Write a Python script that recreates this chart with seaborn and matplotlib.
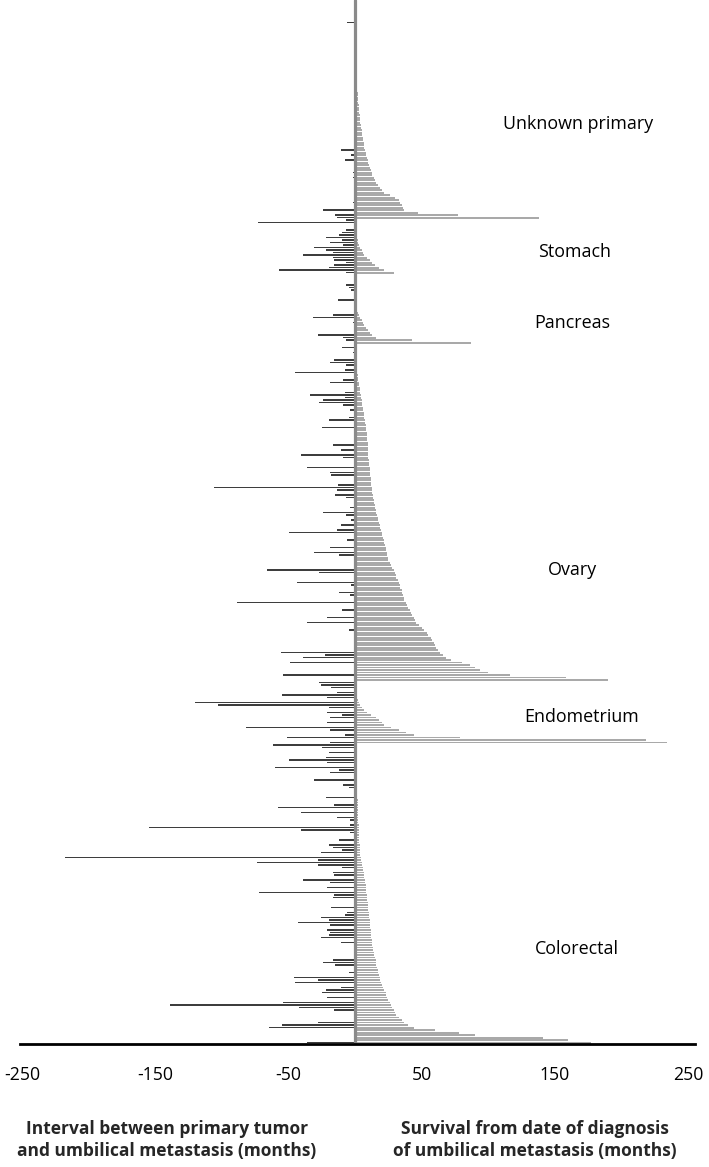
import numpy as np
import pandas as pd
import matplotlib
matplotlib.use("Agg")
import matplotlib.pyplot as plt
import seaborn as sns

# ---------------- data (months), rows top -> bottom ----------------
groups = ["Unknown primary", "Stomach", "Pancreas", "Ovary", "Endometrium", "Colorectal"]

surv_unknown = [0, 0, 0, 0, 0, 0, 0, 0, 0, 0, 0, 0, 0, 0,
                0.3, 0.4, 0.5, 0.6, 0.7, 0.8, 0.9, 1.0, 1.1, 1.2,
                1.3, 1.4, 1.5, 1.6, 1.7, 1.8, 1.9, 2.0, 2.2, 2.4,
                2.6, 2.8, 3.0, 3.2, 3.4, 3.6, 3.8, 4.0, 4.2, 4.5,
                5, 5, 5.5, 6, 6, 6.5, 7, 7, 7.5,
                8, 8.5, 9, 9.5, 10, 10.5, 11, 12, 12.5, 13, 14, 15,
                16, 17, 19, 20, 22, 26, 30, 33,
                34, 35, 36, 37, 47, 77, 138]
int_unknown = [0, -6, 0, 0, 0, 0, 0, 0, 0, 0,
               0, 0, 0, 0, 0, 0, 0, 0, 0, 0,
               0, 0, 0, 0, 0, 0, 0, 0, 0, 0,
               0, 0, 0, 0, 0, 0, 0, 0, 0, 0,
               0, 0, 0, 0, 0, 0, 0, 0, 0, 0,
               0, 0, -11, 0, -3, 0, -7.5, 0, 0, 0,
               0, -2, 0, -2, 0, 0, 0, 0, 0, 0,
               0, 0, 0, -2, 0, 0, -24, 0, -15, -14]

surv_stomach = [0, 0, 0, 0, 0, 0, 0, 1, 2, 2.5, 3, 4, 5, 6, 7, 9, 11, 13, 15, 18, 22, 29]
int_stomach = [-7, -73, 0, 0, -7, -10, -12, -22, -10, -19, -9, -31, -22, -17, -39, -17, -16, -7,
               -16, -20, -57, -7]

surv_pancreas = [0, 0, 0, 0, 0, 0, 0, 0, 0, 0, 0, 0, 0,
                 1, 1.5, 2, 3, 4, 5, 6, 7, 8, 10, 11, 13, 16, 43, 87]
int_pancreas = [0, 0, 0, 0, -7, -5, -3, 0, 0, 0, -13, 0, 0, 0, 0, 0, -17, -32, 0, -2,
                0, 0, 0, 0, -28, -9, -7, 0]

surv_ovary = [0, 0, 0, 0, 0, 0, 0.3, 0.5, 0.7, 1.0,
              1.2, 1.5, 1.8, 2.0, 2.5, 2.8, 3.0, 3.3, 3.6, 4.0,
              4.3, 4.6, 5.0, 5.2, 5.5, 5.8, 6.0, 6.3, 6.6, 7.0,
              7.5, 7.7, 8.0, 8.2, 8.4, 8.6, 8.8, 9.0, 9.2, 9.4,
              9.5, 9.6, 9.7, 9.8, 9.9, 10, 10.2, 10.4, 10.6, 10.8,
              11, 11.2, 11.4, 11.6, 11.8, 12, 12.2, 12.4, 12.7, 13,
              13.3, 13.6, 14, 14.4, 14.8, 15.2, 15.6, 16, 16.5, 17,
              17.5, 18, 18.5, 19, 19.5, 20, 20.5, 21, 21.5, 22,
              22.5, 23, 23.3, 23.6, 24, 24.5, 25, 26, 27, 28,
              29, 30, 30.5, 31, 32, 33, 33.5, 34, 35, 35.5,
              36, 36.5, 37, 38, 39, 40, 41, 42, 43, 44,
              45, 46, 48, 50, 52, 54, 55, 57, 58, 59,
              60, 61, 62, 64, 66, 68, 72, 80, 86, 90,
              94, 100, 116, 158, 190]
int_ovary = [0, -10, 0, -2, 0, 0, -16, -19, -7, 0,
             -8, -45, 0, 0, -9, -19, 0, 0, 0, -8,
             -34, -8, -24, -27, -9, 0, -4, 0, 0, -5,
             -20, 0, 0, -25, 0, 0, 0, 0, 0, 0,
             -17, 0, -11, 0, -41, -9, 0, 0, 0, -36,
             0, -19, -18, 0, 0, 0, -13, -106, -14, 0,
             -15, -7, 0, 0, 0, -4, 0, -24, -7, 0,
             -3, 0, -11, 0, -14, -50, 0, 0, -6, 0,
             0, -19, 0, -31, -12, 0, 0, 0, 0, 0,
             -66, -27, 0, 0, 0, -44, -3, 0, 0, -12,
             -4, 0, 0, -89, -1, 0, -10, 0, 0, -21,
             0, -36, 0, 0, -5, 0, 0, 0, 0, 0,
             0, 0, 0, -56, -23, -39, 0, -49, 0, 0,
             0, 0, -54, 0, 0]

surv_endometrium = [0, 0, 0, 0.5, 1, 1.2, 1.5, 2, 3, 4, 5, 7, 9, 12, 16, 18, 20, 22, 27, 33,
                    38, 44, 79, 218, 234]
int_endometrium = [-27, -26, -18, 0, -14, -55, -21, 0, -120, -103, -20, 0, -21, -10, -19, 0,
                   -21, 0, -82, -19, 0, -8, -51, 0, -19]

surv_colorectal = [0, 0, 0, 0, 0, 0.2, 0.3, 0.4, 0.5, 0.6,
                   0.7, 0.8, 0.9, 1, 1, 1.1, 1.2, 1.3, 1.4, 1.5,
                   1.6, 1.7, 1.8, 1.9, 2, 2, 2.1, 2.2, 2.3, 2.4,
                   2.5, 2.5, 2.6, 2.7, 2.8, 2.9, 3, 3, 3.1, 3.2,
                   3.3, 3.4, 3.5, 3.7, 4, 4.3, 4.6, 5, 5.3, 5.6,
                   6, 6.3, 6.6, 7, 7.2, 7.5, 7.8, 8, 8.2, 8.5,
                   8.7, 9, 9.2, 9.4, 9.6, 9.8, 10, 10.2, 10.4, 10.6,
                   10.8, 11, 11.2, 11.4, 11.6, 11.8, 12, 12.2, 12.5, 12.8,
                   13, 13.3, 13.6, 14, 14.5, 15, 15.3, 15.6, 16, 16.5,
                   17, 17.5, 18, 18.5, 19, 19.5, 20, 21, 22, 23,
                   23.5, 24, 25, 26, 27, 28, 29, 30, 31, 33,
                   35, 37, 40, 44, 60, 78, 90, 141, 160, 177]
int_colorectal = [-62, -25, 0, -20, 0, -22, -50, -21, 0, -60,
                  -12, -19, 0, 0, -31, 0, -9, -5, 0, 0,
                  0, -22, 0, 0, -16, -58, 0, -41, 0, -14,
                  -4, 0, -4, -155, -41, -4, 0, 0, -12, 0,
                  -20, -17, -10, -26, 0, -218, -28, -74, -28, -10,
                  0, -17, -16, 0, -39, -19, 0, -21, 0, -72,
                  -16, -17, 0, 0, 0, -18, 0, -6, -8, -26,
                  -20, -43, -19, 0, -21, -19, -20, -26, 0, -11,
                  0, 0, 0, 0, 0, 0, -17, -24, -15, 0,
                  0, -5, 0, -46, -28, -45, 0, -11, -22, -25,
                  0, -21, 0, -54, -139, -42, -16, 0, 0, 0,
                  0, -28, -55, -65, 0, 0, 0, 0, 0, -36]

xticks = [-250, -150, -50, 50, 150, 250]
left_title = "Interval between primary tumor\nand umbilical metastasis (months)"
right_title = "Survival from date of diagnosis\nof umbilical metastasis (months)"

# ---------------- assemble ----------------
surv_lists = [surv_unknown, surv_stomach, surv_pancreas, surv_ovary, surv_endometrium, surv_colorectal]
int_lists = [int_unknown, int_stomach, int_pancreas, int_ovary, int_endometrium, int_colorectal]
survival, interval, grp = [], [], []
for g, s, i in zip(groups, surv_lists, int_lists):
    assert len(s) == len(i), g
    survival += s
    interval += i
    grp += [g] * len(s)
df = pd.DataFrame({"row": np.arange(len(survival)), "survival": survival,
                   "interval": interval, "group": grp})

sns.set_style("white")
plt.rcParams["font.family"] = ["Open Sans", "DejaVu Sans"]

fig = plt.figure(figsize=(7.09, 11.67), dpi=100)
ax = fig.add_axes([20 / 709, 123 / 1167, 675 / 709, 1044 / 1167])

sns.barplot(data=df, x="survival", y="row", orient="h", native_scale=True,
            color="#a9a9a9", saturation=1, width=0.8, errorbar=None,
            linewidth=0, ax=ax)
sns.barplot(data=df, x="interval", y="row", orient="h", native_scale=True,
            color="#3e3e3e", saturation=1, width=0.68, errorbar=None,
            linewidth=0, ax=ax)

ax.axvline(0, color="#8a8a8a", lw=2.3, zorder=5)

ax.set_xlim(-251.5, 255)
ax.set_ylim(409.6, -8)
ax.set_yticks([])
ax.set_ylabel("")
ax.set_xlabel("")
ax.set_xticks(xticks)
ax.set_xticklabels([str(t) for t in xticks])
ax.tick_params(axis="x", length=0, pad=16, labelsize=12.7, colors="black")
for s in ["left", "right", "top"]:
    ax.spines[s].set_visible(False)
ax.spines["bottom"].set_color("black")
ax.spines["bottom"].set_linewidth(2)
ax.spines["bottom"].set_zorder(6)

# group labels (x in months, y in row units)
label_pos = {"Unknown primary": (167, 41.6), "Stomach": (165, 92.8),
             "Pancreas": (163, 121.2), "Ovary": (163, 220),
             "Endometrium": (170, 278.8), "Colorectal": (166, 371.6)}
for g in groups:
    x, y = label_pos[g]
    ax.text(x, y, g, ha="center", va="center", fontsize=12.9, color="black", zorder=7)

fig.text(167 / 709, 1 - 1140 / 1167, left_title, ha="center", va="center",
         fontsize=12.5, fontweight="bold", linespacing=1.25)
fig.text(535 / 709, 1 - 1140 / 1167, right_title, ha="center", va="center",
         fontsize=12.5, fontweight="bold", linespacing=1.25)

fig.savefig("out.png", dpi=100)
